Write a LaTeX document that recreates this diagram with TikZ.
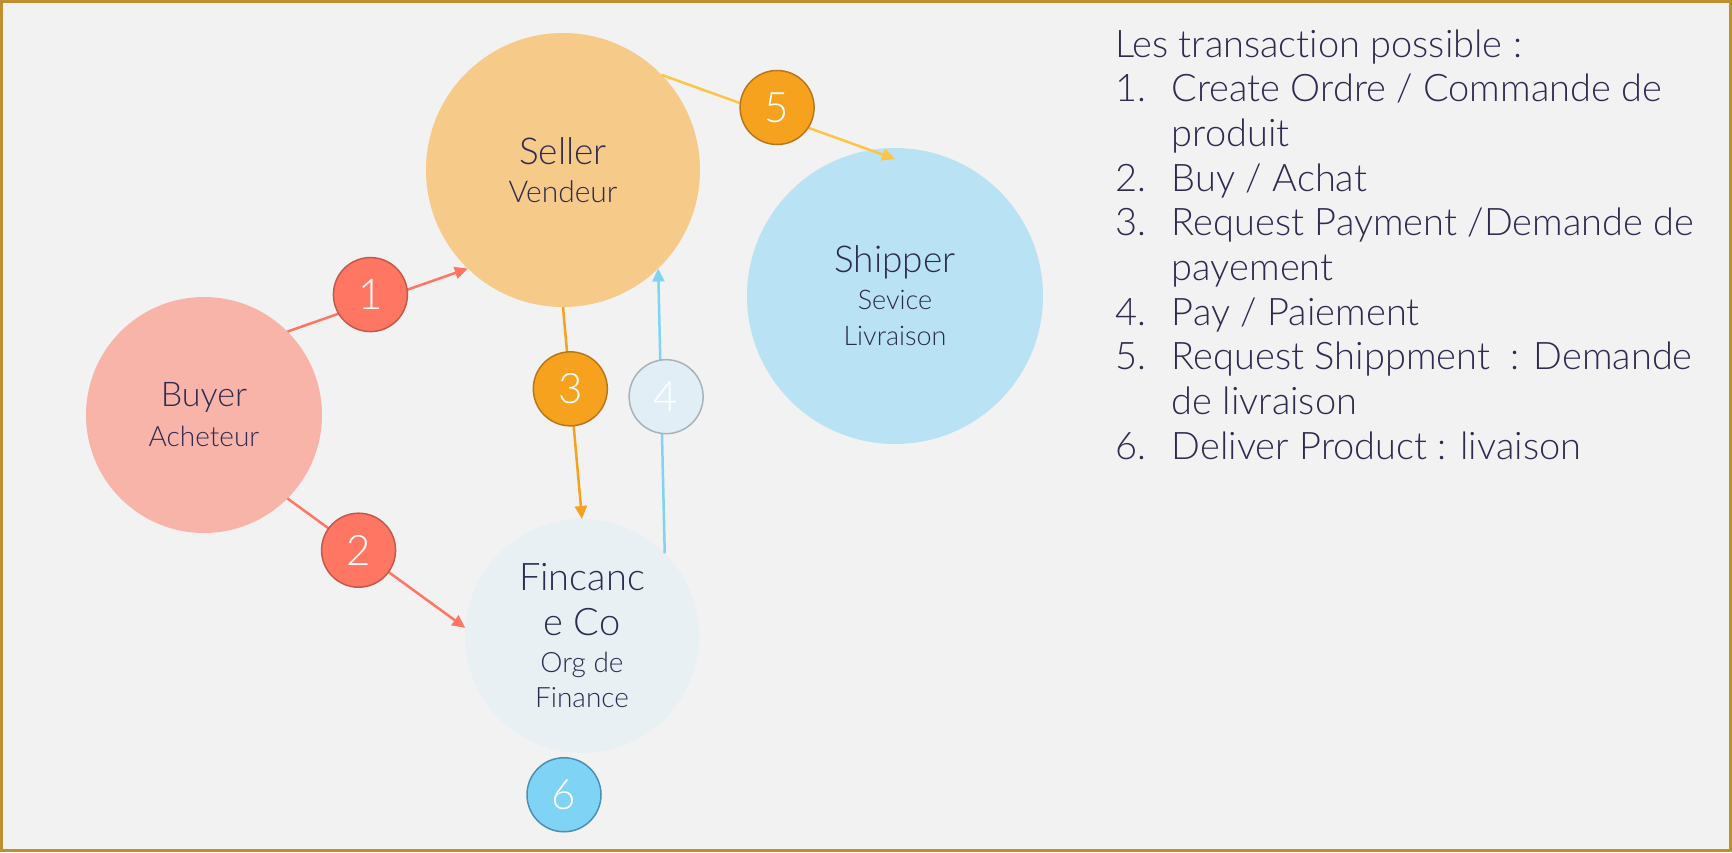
\documentclass[tikz,border=0pt]{standalone}
\usepackage{fontspec}
\IfFontExistsTF{Lato Light}{\setmainfont{Lato Light}[Ligatures=NoCommon]}{\setmainfont{Lato}[Ligatures=NoCommon]}
\usetikzlibrary{arrows.meta, positioning}
\definecolor{fond}{HTML}{F2F2F2}
\definecolor{cadre}{HTML}{BF9030}
\definecolor{encre}{HTML}{2E2B50}
\definecolor{rose}{HTML}{F8B4A9}
\definecolor{sable}{HTML}{F6CA89}
\definecolor{ciel}{HTML}{B9E2F4}
\definecolor{brume}{HTML}{E8F0F4}
\definecolor{corail}{HTML}{FF7662}
\definecolor{corailfonce}{HTML}{C25A4C}
\definecolor{ambre}{HTML}{F7A21E}
\definecolor{ambrefonce}{HTML}{B7771A}
\definecolor{jaune}{HTML}{FFC445}
\definecolor{bleu}{HTML}{7FD3F5}
\definecolor{bleufonce}{HTML}{4C8FB2}
\definecolor{givre}{HTML}{E1EEF5}
\definecolor{givrefonce}{HTML}{A9B2B9}
\tikzset{
  acteur/.style={circle, inner sep=0pt, outer sep=0pt, text=encre, align=center},
  pastille/.style={circle, minimum size=74pt, inner sep=0pt, line width=1.5pt, text=white, font=\fontsize{42}{42}\selectfont},
  fleche/.style={line width=2.5pt, -{Triangle[length=13pt,width=12pt]}}
}

\begin{document}
\begin{tikzpicture}[x=1pt, y=-1pt]
		\useasboundingbox (0,0) rectangle (1732,852);
		\fill[fond] (0,0) rectangle (1732,852);
		\draw[cadre, line width=3pt] (1.5,1.5) rectangle (1730.5,850.5);
		
		\node[acteur, fill=rose, minimum size=236pt, font=\fontsize{34}{40}\selectfont] (buyer) at (204,415) {Buyer\\{\fontsize{28}{28}\selectfont Acheteur}};
		\node[acteur, fill=sable, minimum size=274pt, font=\fontsize{37}{38}\selectfont] (seller) at (563,170) {Seller\\{\fontsize{30}{30}\selectfont Vendeur}};
		\node[acteur, fill=ciel, minimum size=296pt, font=\fontsize{37}{37}\selectfont] (shipper) at (895,296) {Shipper\\{\fontsize{27}{27}\selectfont Sevice}\\[-1pt]{\fontsize{27}{27}\selectfont Livraison}};
		\node[acteur, fill=brume, minimum size=234pt, font=\fontsize{38}{37}\selectfont] (finance) at (582,636) {Fincanc\\[8pt]e Co\\{\fontsize{28}{28}\selectfont Org de}\\[-2pt]{\fontsize{28}{28}\selectfont Finance}};
		\coordinate (cible) at ([yshift=-11pt]shipper.north);
		
		\draw[fleche, corail] (buyer.45) -- node[pastille, pos=0.46, yshift=8pt, fill=corail, draw=corailfonce] (n1) {1} (seller.226);
		\draw[fleche, corail] (buyer.-45) -- node[pastille, pos=0.40, fill=corail, draw=corailfonce] (n2) {2} (finance.176);
		\draw[fleche, ambre] (seller.south) -- node[pastille, pos=0.386, fill=ambre, draw=ambrefonce] (n3) {3} (finance.north);
		\draw[fleche, bleu] (finance.45) -- node[pastille, pos=0.55, xshift=5pt, fill=givre, draw=givrefonce] (n4) {4} (seller.-46);
		\draw[fleche, jaune] (seller.44) -- node[pastille, pos=0.495, yshift=9pt, fill=ambre, draw=ambrefonce] (n5) {5} (cible);
		\node[pastille, fill=bleu, draw=bleufonce, below=4pt of finance, xshift=-18pt] (n6) {6};
		
		\node[anchor=base west, inner sep=0pt, text=encre, font=\fontsize{38}{44.67}\selectfont] (liste) at (1115,57) {\begin{tabular}[t]{@{}p{56.7pt}@{}l@{}}
			\multicolumn{2}{@{}l@{}}{Les transaction possible :}\\
			1. & Create Ordre / Commande de\\
			& produit\\
			2. & Buy / Achat\\
			3. & Request Payment /Demande de\\
			& payement\\
			4. & Pay / Paiement\\
			5. & Request Shippment~ : Demande\\
			& de livraison\\
			6. & Deliver Product : livaison
		\end{tabular}};
\end{tikzpicture}
\end{document}
